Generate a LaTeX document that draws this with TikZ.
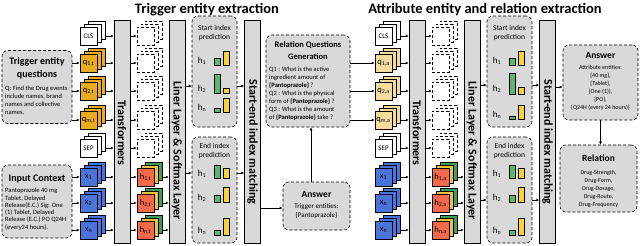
\documentclass[tikz,border=0pt]{standalone}
\usepackage{fontspec}
\setmainfont{Carlito}
\usetikzlibrary{arrows.meta}
\definecolor{qgold}{HTML}{E9AC1E}
\definecolor{qtan}{HTML}{F3DC9E}
\definecolor{xblue}{HTML}{4A74D9}
\definecolor{hred}{HTML}{F26A4B}
\definecolor{hyel}{HTML}{F0C23C}
\definecolor{hgrn}{HTML}{3F9E5B}
\definecolor{bgrn}{HTML}{5CB86E}
\definecolor{byel}{HTML}{F8D33A}
\definecolor{boxgray}{HTML}{D9D9D9}
\newcommand\fs[2]{\fontsize{#1}{#2}\selectfont}
\newcommand\tokstack[7]{%
  \node[tokbox, fill=#4] (#1-b) at (#2+8,#3-6) {};
  \node[tokbox, fill=#5] (#1-m) at (#2+4,#3-3) {};
  \node[tokbox, fill=#6] (#1) at (#2,#3) {#7};}
\newcommand\outstack[3]{%
  \node[outbox] (#1-b) at (#2+8,#3-6) {};
  \node[outbox] (#1-m) at (#2+4,#3-3) {};
  \node[outbox] (#1) at (#2,#3) {};}
\newcommand\barpair[4]{%
  \draw[fill=bgrn, line width=0.5pt] (#1,#2) rectangle ++(6,-#3);
  \draw[fill=byel, line width=0.5pt] (#1+9,#2) rectangle ++(6,-#4);}
\begin{document}
\begin{tikzpicture}[x=1pt,y=-1pt,
  tokbox/.style={draw, line width=0.5pt, minimum width=17pt, minimum height=18pt, inner sep=0pt, font=\fs{8.5}{8.5}},
  outbox/.style={tokbox, densely dashed, fill=white},
  vbar/.style={draw, fill=boxgray, line width=0.5pt, minimum width=16pt, minimum height=223pt, inner sep=0pt},
  rbox/.style={draw, densely dashed, fill=boxgray, rounded corners=6pt, line width=0.6pt, inner sep=0pt},
  arr/.style={-{Latex[length=3pt,width=3pt]}, line width=0.6pt},
  bartext/.style={rotate=-90, font=\bfseries\fs{12}{12}},
  ttl/.style={font=\bfseries\fs{14.5}{14.5}},
  hd/.style={font=\bfseries\fs{10}{12.5}, align=center},
  sm/.style={font=\fs{6.5}{7.8}, align=left, inner sep=0pt},
  hl/.style={font=\fs{9}{9}, inner sep=0pt}
]
\useasboundingbox (0,0) rectangle (640,246);

% ---------------- titles
\node[ttl] (t1) at (207,10) {Trigger entity extraction};
\node[ttl] (t2) at (485,10) {Attribute entity and relation extraction};

% ================= LEFT HALF =================
\node[rbox, minimum width=70pt, minimum height=73pt] (tq) at (37,87) {};
\node[hd] (tqT) at (37,68.5) {Trigger entity\\questions};
\node[sm, anchor=north west] (tqB) at (5,86) {Q: Find the Drug events\\include names, brand\\names and collective\\names.};
\node[rbox, minimum width=70pt, minimum height=73pt] (ic) at (37,201.5) {};
\node[hd] (icT) at (37,179) {Input Context};
\node[sm, anchor=north west, font=\fs{6.5}{7.3}] (icB) at (5,188) {Pantoprazole 40 mg\\Tablet, Delayed\\Release(E.C.) Sig: One\\(1) Tablet, Delayed\\Release (E.C.) PO Q24H\\(every24 hours).};

\tokstack{cls}{88.5}{36}{white}{white}{white}{\fs{7}{7}CLS}
\tokstack{qa}{88.5}{63}{qgold}{qgold}{qgold}{q\textsubscript{1,t}}
\tokstack{qb}{88.5}{91}{qgold}{qgold}{qgold}{q\textsubscript{2,t}}
\tokstack{qc}{88.5}{120}{qgold}{qgold}{qgold}{q\textsubscript{m,t}}
\tokstack{sep}{88.5}{148}{white}{white}{white}{\fs{7}{7}SEP}
\tokstack{xa}{88.5}{177}{xblue}{xblue}{xblue}{x\textsubscript{1}}
\tokstack{xb}{88.5}{203}{xblue}{xblue}{xblue}{x\textsubscript{2}}
\tokstack{xc}{88.5}{230}{xblue}{xblue}{xblue}{x\textsubscript{n}}

\node[vbar] (tf) at (122,131.5) {};
\node[bartext] (tfT) at (122,133) {Transformers};

\outstack{oa}{145.5}{36}
\outstack{ob}{145.5}{63}
\outstack{oc}{145.5}{91}
\outstack{od}{145.5}{120}
\outstack{oe}{145.5}{148}
\tokstack{ha}{145.5}{177}{hgrn}{hyel}{hred}{h\textsubscript{1,t}}
\tokstack{hb}{145.5}{203}{hgrn}{hyel}{hred}{h\textsubscript{2,t}}
\tokstack{hc}{145.5}{230}{hgrn}{hyel}{hred}{h\textsubscript{n,t}}

\node[vbar] (ll) at (177,131.5) {};
\node[bartext] (llT) at (177,151) {Liner Layer \& Softmax Layer};

\node[rbox, minimum width=45pt, minimum height=111pt] (st) at (214.5,71.5) {};
\node[font=\fs{7.5}{9.5}, align=center] (stT) at (214.5,33) {Start index\\prediction};
\node[rbox, minimum width=45pt, minimum height=106pt] (en) at (214.5,190) {};
\node[font=\fs{7.5}{9.5}, align=center] (enT) at (214.5,151) {End index\\prediction};
\node[hl] (sh1) at (202,61) {h\textsubscript{1}};
\node[hl] (sh2) at (202,89) {h\textsubscript{2}};
\node[hl] (sh3) at (202,108) {h\textsubscript{n}};
\barpair{214}{65}{7}{14}
\barpair{214}{93}{19}{5}
\barpair{214}{112}{4}{14}
\node[hl] (eh1) at (202,174) {h\textsubscript{1}};
\node[hl] (eh2) at (202,198) {h\textsubscript{2}};
\node[hl] (eh3) at (202,231) {h\textsubscript{n}};
\barpair{214}{178}{13}{10}
\barpair{214}{202}{7}{15}
\barpair{214}{235}{5}{17}

\node[vbar] (se) at (252.5,131.5) {};
\node[bartext] (seT) at (252.5,142) {Start-end index matching};

\node[rbox, minimum width=84pt, minimum height=92pt] (rq) at (308,81) {};
\node[hd, font=\bfseries\fs{8.5}{12}] (rqT) at (308,51) {Relation Questions\\Generation};
\node[sm, anchor=north west, font=\fs{6.5}{8}] (rqB) at (269,66.5) {Q1 : What is the active\\ingredient amount of\\\textbf{\{Pantoprazole\}} ?\\Q2 : What is the physical\\form of \textbf{\{Pantoprazole\}} ?\\Q3 : What is the amount\\of \textbf{\{Pantoprazole\}} take ?};

\node[rbox, minimum width=67pt, minimum height=48pt] (an) at (316.5,206) {};
\node[hd, font=\bfseries\fs{9.5}{9.5}] (anT) at (316.5,194) {Answer};
\node[font=\fs{7}{9}, align=center] (anB) at (316.5,211.5) {Trigger entities:\\\{Pantoprazole\}};

% ================= RIGHT HALF =================
\tokstack{rcls}{383.5}{36}{white}{white}{white}{\fs{7}{7}CLS}
\tokstack{rqa}{383.5}{63}{qtan}{qtan}{qtan}{q\textsubscript{1,a}}
\tokstack{rqb}{383.5}{91}{qtan}{qtan}{qtan}{q\textsubscript{2,a}}
\tokstack{rqc}{383.5}{120}{qtan}{qtan}{qtan}{q\textsubscript{m,a}}
\tokstack{rsep}{383.5}{148}{white}{white}{white}{\fs{7}{7}SEP}
\tokstack{rxa}{383.5}{177}{xblue}{xblue}{xblue}{x\textsubscript{1}}
\tokstack{rxb}{383.5}{203}{xblue}{xblue}{xblue}{x\textsubscript{n}}
\tokstack{rxc}{383.5}{230}{xblue}{xblue}{xblue}{x\textsubscript{n}}

\node[vbar] (rtf) at (417,131.5) {};
\node[bartext] (rtfT) at (417,133) {Transformers};

\outstack{roa}{440.5}{36}
\outstack{rob}{440.5}{63}
\outstack{roc}{440.5}{91}
\outstack{rod}{440.5}{120}
\outstack{roe}{440.5}{148}
\tokstack{rha}{440.5}{177}{hgrn}{hyel}{hred}{h\textsubscript{1,a}}
\tokstack{rhb}{440.5}{203}{hgrn}{hyel}{hred}{h\textsubscript{2,a}}
\tokstack{rhc}{440.5}{230}{hgrn}{hyel}{hred}{h\textsubscript{n,a}}

\node[vbar] (rll) at (472,131.5) {};
\node[bartext] (rllT) at (472,151) {Liner Layer \& Softmax Layer};

\node[rbox, minimum width=45pt, minimum height=111pt] (rst) at (509.5,71.5) {};
\node[font=\fs{7.5}{9.5}, align=center] (rstT) at (509.5,33) {Start index\\prediction};
\node[rbox, minimum width=45pt, minimum height=106pt] (ren) at (509.5,190) {};
\node[font=\fs{7.5}{9.5}, align=center] (renT) at (509.5,151) {End index\\prediction};
\node[hl] (rsh1) at (497,61) {h\textsubscript{1}};
\node[hl] (rsh2) at (497,89) {h\textsubscript{2}};
\node[hl] (rsh3) at (497,115) {h\textsubscript{n}};
\barpair{509}{65}{7}{14}
\barpair{509}{94}{21}{7}
\barpair{509}{119}{3}{14}
\node[hl] (reh1) at (497,174) {h\textsubscript{1}};
\node[hl] (reh2) at (497,198) {h\textsubscript{2}};
\node[hl] (reh3) at (497,231) {h\textsubscript{n}};
\barpair{509}{178}{13}{10}
\barpair{509}{202}{7}{15}
\barpair{509}{235}{5}{17}

\node[vbar] (rse) at (547.5,131.5) {};
\node[bartext] (rseT) at (547.5,142) {Start-end index matching};

\node[rbox, minimum width=75pt, minimum height=75pt] (ar) at (600.5,82.5) {};
\node[font=\bfseries\fs{9.5}{9.5}] (arT) at (600.5,55.5) {Answer};
\node[font=\fs{6}{8}, align=center] (arB) at (600.5,88) {Attribute entities:\\\{40 mg\},\\\{Tablet\},\\\{One (1)\},\\\{PO\},\\\{Q24H (every 24 hours)\}};
\node[rbox, minimum width=77pt, minimum height=67pt] (rel) at (598.5,178.5) {};
\node[font=\bfseries\fs{9.5}{9.5}] (relT) at (598.5,158.5) {Relation};
\node[font=\fs{6}{7.8}, align=center] (relB) at (598.5,189) {Drug-Strength,\\Drug-Form,\\Drug-Dosage,\\Drug-Route,\\Drug-Frequency};

% ================= ARROWS =================
\foreach \t in {qa,qb,qc} \draw[arr] (tq.east |- \t) -- (\t.west);
\foreach \t in {xa,xb,xc} \draw[arr] (ic.east |- \t) -- (\t.west);
\foreach \t/\o in {cls/oa,qa/ob,qb/oc,qc/od,sep/oe,xa/ha,xb/hb,xc/hc}{
  \draw[arr] (\t.east -| \t-b.east) -- (\t -| tf.west);
  \draw[arr] (tf.east |- \o) -- (\o.west);}
\foreach \h in {ha,hb,hc} \draw[arr] (\h.east -| \h-b.east) -- (\h -| ll.west);
\draw[arr] (ll.east |- 0,86) -- (st.west |- 0,86);
\draw[arr] (st.east |- 0,86) -- (se.west |- 0,86);
\draw[arr] (ll.east |- 0,173) -- (en.west |- 0,173);
\draw[arr] (en.east |- 0,173) -- (se.west |- 0,173);
\draw[arr] (se.east |- 0,208) -- (an.west |- 0,208);
\draw[arr] ([xshift=-5.5pt]an.north) -- ([xshift=-5.5pt]an.north |- rq.south);
\foreach \t in {rqa,rqb,rqc} \draw[arr] (rq.east |- \t) -- (\t.west);
\foreach \t/\o in {rcls/roa,rqa/rob,rqb/roc,rqc/rod,rsep/roe,rxa/rha,rxb/rhb,rxc/rhc}{
  \draw[arr] (\t.east -| \t-b.east) -- (\t -| rtf.west);
  \draw[arr] (rtf.east |- \o) -- (\o.west);}
\foreach \h in {rha,rhb,rhc} \draw[arr] (\h.east -| \h-b.east) -- (\h -| rll.west);
\draw[arr] (rll.east |- 0,85) -- (rst.west |- 0,85);
\draw[arr] (rst.east |- 0,85) -- (rse.west |- 0,85);
\draw[arr] (rll.east |- 0,200) -- (ren.west |- 0,200);
\draw[arr] (ren.east |- 0,200) -- (rse.west |- 0,200);
\draw[arr] (rse.east |- 0,87) -- (ar.west |- 0,87);
\draw[arr] (ar.south) -- (ar.south |- rel.north);
\end{tikzpicture}
\end{document}
